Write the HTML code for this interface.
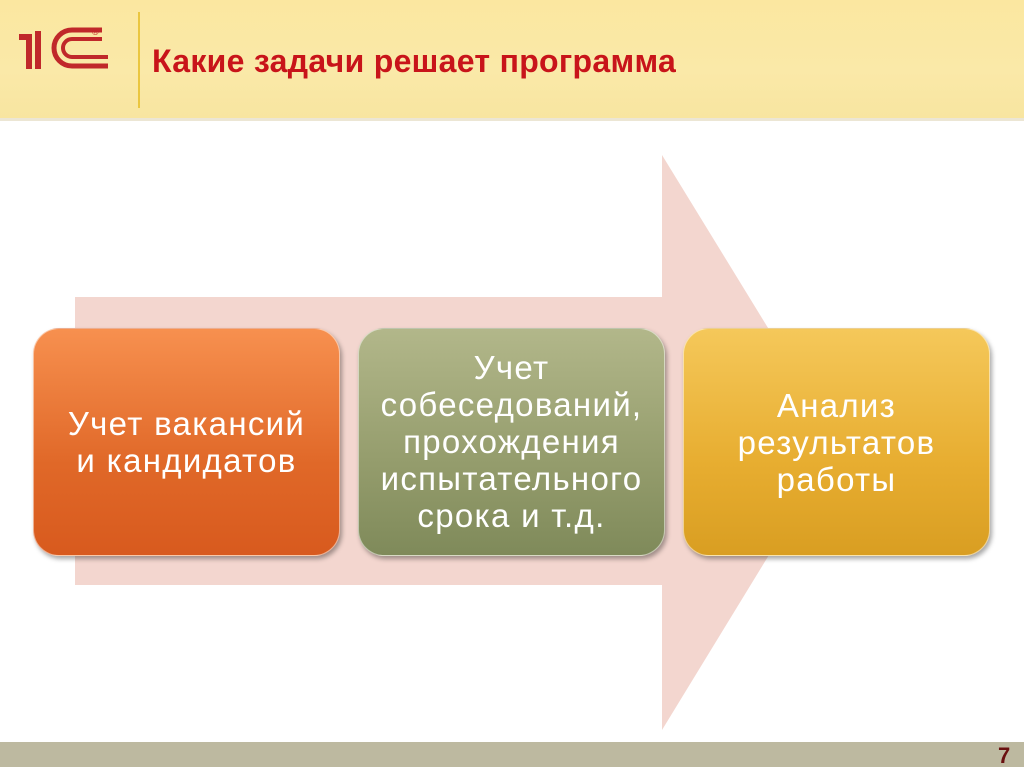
<!DOCTYPE html>
<html><head><meta charset="utf-8"><style>
body{margin:0;width:1024px;height:767px;position:relative;overflow:hidden;background:#fff;font-family:"Liberation Sans",sans-serif}
#hdr{position:absolute;left:0;top:0;width:1024px;height:118px;background:linear-gradient(#fbe7a0,#fae9a8 60%,#f8e5a0);border-bottom:3px solid #ece6d4}
#vl{position:absolute;left:138px;top:12px;width:2px;height:96px;background:#eac640}
#title{position:absolute;left:152px;top:43px;font-size:32px;font-weight:bold;color:#c8141a;letter-spacing:0.3px}
#ftr{position:absolute;left:0;top:742px;width:1024px;height:25px;background:#bdb9a0}
#pn{position:absolute;left:998px;top:743px;font-size:22px;font-weight:bold;color:#6a1010}
.b{position:absolute;top:328px;width:307px;height:228px;border-radius:26px;color:#fff;font-size:33px;line-height:37px;letter-spacing:1.3px;display:flex;align-items:center;justify-content:center;text-align:center;box-shadow:2px 3px 5px rgba(0,0,0,.35);border:1px solid rgba(255,255,255,.5);box-sizing:border-box}
</style></head><body>
<div id="hdr"></div>
<svg style="position:absolute;left:0;top:0" width="140" height="118">
<g fill="none" stroke="#c0282a">
<path d="M19 37h10v32" stroke-width="6"/><path d="M38 31v38" stroke-width="6"/>
<path d="M108 66H72a18 18 0 0 1 0-36h30" stroke-width="5"/>
<path d="M108 57H72a9 9 0 0 1 0-18h30" stroke-width="4"/>
</g><text x="92" y="35" font-size="9" fill="#c0282a">®</text></svg>
<div id="vl"></div>
<div id="title">Какие задачи решает программа</div>
<svg style="position:absolute;left:0;top:0" width="1024" height="767">
<polygon points="75,297 662,297 662,155 838,442 662,730 662,585 75,585" fill="#f3d6cf"/>
</svg>
<div class="b" style="left:33px;background:linear-gradient(#f7904f,#e06828 60%,#d85a1e)">Учет вакансий<br>и кандидатов</div>
<div class="b" style="left:358px;background:linear-gradient(#b2b78a,#949c6c 60%,#7f8a5a);align-items:flex-start;padding-top:20px">Учет<br>собеседований,<br>прохождения<br>испытательного<br>срока и т.д.</div>
<div class="b" style="left:683px;background:linear-gradient(#f5c85a,#e7ad30 60%,#d99e22)">Анализ<br>результатов<br>работы</div>
<div id="ftr"></div>
<div id="pn">7</div>
</body></html>
